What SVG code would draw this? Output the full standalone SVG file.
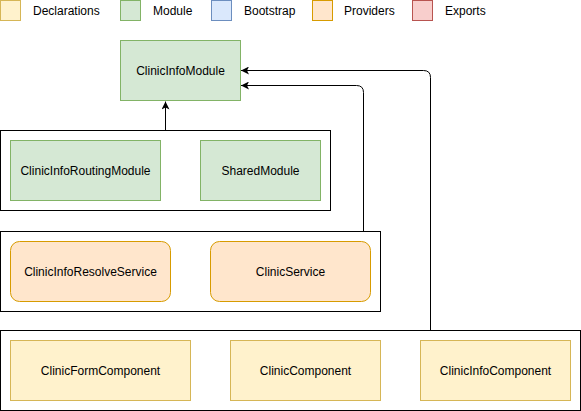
<svg xmlns="http://www.w3.org/2000/svg" width="581" height="411" viewBox="0 0 581 411">
<defs>
<style>
text{font-family:"Liberation Sans",Arial,sans-serif;font-size:12px;fill:#000}
.c{text-anchor:middle;dominant-baseline:central}
.l{dominant-baseline:central}
.decl{fill:#fff2cc;stroke:#d6b656}
.mod{fill:#d5e8d4;stroke:#82b366}
.boot{fill:#dae8fc;stroke:#6c8ebf}
.prov{fill:#ffe6cc;stroke:#d79b00}
.exp{fill:#f8cecc;stroke:#b85450}
.box{fill:#fff;stroke:#000}
.edge{fill:none;stroke:#000;stroke-width:1}
</style>
<marker id="arr" viewBox="0 0 8 8" refX="8" refY="4" markerWidth="8" markerHeight="8" markerUnits="userSpaceOnUse" orient="auto">
<path d="M0,0 L8,4 L0,8 L2,4 Z" fill="#000"/>
</marker>
</defs>
<g id="legend">
<rect class="decl" x="0.5" y="0.5" width="20" height="20"/><text class="l" x="33" y="10.5">Declarations</text>
<rect class="mod" x="120.5" y="0.5" width="20" height="20"/><text class="l" x="153" y="10.5">Module</text>
<rect class="boot" x="211.5" y="0.5" width="20" height="20"/><text class="l" x="244" y="10.5">Bootstrap</text>
<rect class="prov" x="312.5" y="0.5" width="20" height="20"/><text class="l" x="344" y="10.5">Providers</text>
<rect class="exp" x="412.5" y="0.5" width="20" height="20"/><text class="l" x="445" y="10.5">Exports</text>
</g>
<g id="ClinicInfoModule"><rect class="mod" x="120.5" y="40.5" width="120" height="60"/><text class="c" x="180.5" y="70.5">ClinicInfoModule</text></g>
<g id="modules">
<rect class="box" x="0.5" y="130.5" width="330" height="80"/>
<g id="ClinicInfoRoutingModule"><rect class="mod" x="10.5" y="140.5" width="150" height="60"/><text class="c" x="85.5" y="170.5">ClinicInfoRoutingModule</text></g>
<g id="SharedModule"><rect class="mod" x="200.5" y="140.5" width="120" height="60"/><text class="c" x="260.5" y="170.5">SharedModule</text></g>
</g>
<g id="providers">
<rect class="box" x="0.5" y="231.5" width="380" height="80"/>
<g id="ClinicInfoResolveService"><rect class="prov" x="10.5" y="241.5" width="160" height="60" rx="9"/><text class="c" x="90.5" y="271.5">ClinicInfoResolveService</text></g>
<g id="ClinicService"><rect class="prov" x="210.5" y="241.5" width="160" height="60" rx="9"/><text class="c" x="290.5" y="271.5">ClinicService</text></g>
</g>
<g id="declarations">
<rect class="box" x="0.5" y="330.5" width="580" height="80"/>
<g id="ClinicFormComponent"><rect class="decl" x="10.5" y="340.5" width="180" height="60"/><text class="c" x="100.5" y="370.5">ClinicFormComponent</text></g>
<g id="ClinicComponent"><rect class="decl" x="230.5" y="340.5" width="150" height="60"/><text class="c" x="305.5" y="370.5">ClinicComponent</text></g>
<g id="ClinicInfoComponent"><rect class="decl" x="420.5" y="340.5" width="150" height="60"/><text class="c" x="495.5" y="370.5">ClinicInfoComponent</text></g>
</g>
<g id="connectors">
<path class="edge" d="M165.5 130.5 V101.5" marker-end="url(#arr)"/>
<path class="edge" d="M363.5 231.5 V92.5 Q363.5 85.5 356.5 85.5 H241" marker-end="url(#arr)"/>
<path class="edge" d="M430.5 330.5 V77.5 Q430.5 70.5 423.5 70.5 H241" marker-end="url(#arr)"/>
</g>
</svg>
